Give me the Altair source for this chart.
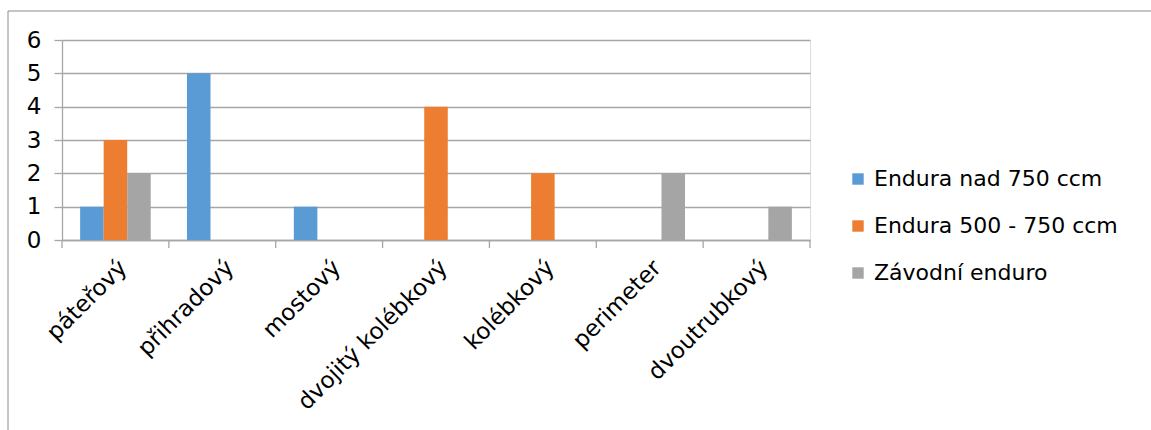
import altair as alt
import pandas as pd

# Frame types and number of models per class
frame_types = ["páteřový", "přihradový", "mostový", "dvojitý kolébkový",
               "kolébkový", "perimeter", "dvoutrubkový"]
series_names = ["Endura nad 750 ccm", "Endura 500 - 750 ccm", "Závodní enduro"]
over_750 = [1, 5, 1, 0, 0, 0, 0]
from_500_to_750 = [3, 0, 0, 4, 2, 0, 0]
racing = [2, 0, 0, 0, 0, 2, 1]
series_colors = ["#5B9BD5", "#ED7D31", "#A5A5A5"]

rows = []
for name, values in zip(series_names, [over_750, from_500_to_750, racing]):
    for frame, v in zip(frame_types, values):
        rows.append({"typ": frame, "serie": name, "pocet": v})
df = pd.DataFrame(rows)
ticks_df = pd.DataFrame({"typ": frame_types})
last_df = pd.DataFrame({"typ": frame_types[-1:]})

FONT = "DejaVu Sans"
GRID = "#A6A6A6"

x_scale = alt.Scale(domain=frame_types, paddingInner=0, paddingOuter=0)

bars = alt.Chart(df).mark_bar().encode(
    x=alt.X("typ:N", scale=x_scale, sort=frame_types, title=None,
            axis=alt.Axis(labelAngle=315, labelFontSize=23, labelFont=FONT,
                          labelColor="#000000", ticks=False, domain=True,
                          domainColor=GRID, domainWidth=1.3, labelPadding=16,
                          labelOverlap=False, labelLimit=0)),
    xOffset=alt.XOffset("serie:N", sort=series_names,
                        scale=alt.Scale(domain=series_names, paddingInner=0,
                                        paddingOuter=0.77)),
    y=alt.Y("pocet:Q", title=None,
            scale=alt.Scale(domain=[0, 6], nice=False),
            axis=alt.Axis(values=[0, 1, 2, 3, 4, 5, 6], labelFontSize=23,
                          labelFont=FONT, labelColor="#000000", grid=True,
                          gridColor=GRID, gridWidth=1.3, tickColor=GRID,
                          tickSize=8, tickWidth=1.3, domainColor=GRID,
                          domainWidth=1.3, labelPadding=13)),
    color=alt.Color("serie:N", sort=series_names,
                    scale=alt.Scale(domain=series_names, range=series_colors),
                    legend=alt.Legend(title=None, orient="none", legendX=785,
                                      legendY=128, symbolType="square",
                                      symbolSize=130, symbolStrokeWidth=0,
                                      labelFontSize=22, labelFont=FONT,
                                      labelColor="#000000", rowPadding=25,
                                      labelOffset=5, labelLimit=0)),
)

# Category boundary ticks below the x axis
boundary_ticks = alt.Chart(ticks_df).mark_rule(color=GRID, strokeWidth=1.3).encode(
    x=alt.X("typ:N", scale=x_scale, sort=frame_types, bandPosition=0),
    y=alt.value(200), y2=alt.value(208),
)
end_tick = alt.Chart(last_df).mark_rule(color=GRID, strokeWidth=1.3).encode(
    x=alt.X("typ:N", scale=x_scale, sort=frame_types, bandPosition=1),
    y=alt.value(200), y2=alt.value(208),
)

# Outer frame: top and left edges
frame_top = alt.Chart(last_df).mark_rule(color="#8C8C8C", strokeWidth=1).encode(
    x=alt.value(-54), x2=alt.value(1089), y=alt.value(-29))
frame_left = alt.Chart(last_df).mark_rule(color="#8C8C8C", strokeWidth=1).encode(
    x=alt.value(-54), y=alt.value(-29), y2=alt.value(390))

chart = alt.layer(bars, boundary_ticks, end_tick, frame_top, frame_left).properties(
    width=748, height=200,
    autosize=alt.AutoSizeParams(type="none"),
    padding={"left": 62, "top": 40, "right": 341, "bottom": 190},
).configure_view(stroke=None).configure(background="#FFFFFF")

chart.save("out.html", embed_options={"renderer": "svg", "actions": False})
